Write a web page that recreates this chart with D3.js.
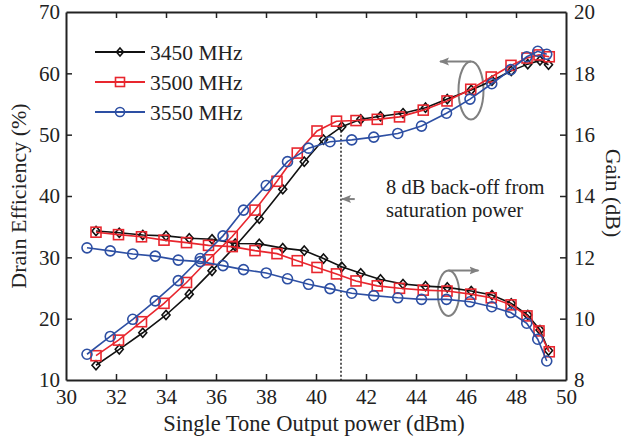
<!DOCTYPE html>
<html>
<head>
<meta charset="utf-8">
<script src="https://cdn.jsdelivr.net/npm/d3@7"></script>
<style>
  body { margin: 0; background: #fff; }
  text { font-family: "Liberation Serif", "Times New Roman", serif; fill: #222; }
</style>
</head>
<body>
<div id="container"></div>
<script>
//---------------------------DATA-------------------------------//
var xTicks = [30, 32, 34, 36, 38, 40, 42, 44, 46, 48, 50];
var effTicks = [10, 20, 30, 40, 50, 60, 70];
var gainTicks = [8, 10, 12, 14, 16, 18, 20];

var freqs = ["3450 MHz", "3500 MHz", "3550 MHz"];

// output power (dBm)
var pout3450 = [31.2, 32.13, 33.07, 34.0, 34.93, 35.84, 36.77, 37.73, 38.67, 39.53, 40.3, 41.03,
  41.79, 42.58, 43.48, 44.38, 45.25, 46.21, 47.04, 47.81, 48.47, 48.96, 49.3];
var pout3500 = [31.2, 32.1, 33.02, 33.92, 34.82, 35.7, 36.65, 37.56, 38.44, 39.25, 40.04, 40.82,
  41.6, 42.45, 43.34, 44.29, 45.24, 46.19, 47.01, 47.8, 48.44, 48.92, 49.33];
var pout3550 = [30.84, 31.77, 32.67, 33.57, 34.49, 35.37, 36.28, 37.1, 38.01, 38.86, 39.7, 40.56,
  41.43, 42.31, 43.27, 44.22, 45.22, 46.16, 47.03, 47.79, 48.43, 48.87, 49.23];

// drain efficiency (%)
var eff3450 = [12.4, 15.0, 17.7, 20.6, 24.0, 27.8, 31.8, 36.3, 41.1, 45.6, 49.2, 51.3,
  52.5, 53.0, 53.5, 54.4, 55.8, 57.3, 58.8, 60.4, 61.5, 62.1, 61.4];
var eff3500 = [13.96, 16.5, 19.5, 22.5, 25.9, 29.6, 33.4, 37.7, 42.4, 47.0, 50.6, 52.2,
  52.3, 52.5, 52.9, 54.0, 55.5, 57.4, 59.4, 61.3, 62.5, 63.0, 62.7];
var eff3550 = [14.2, 17.1, 19.9, 22.9, 26.2, 29.8, 33.5, 37.7, 41.7, 45.6, 47.8, 48.85,
  49.15, 49.6, 50.2, 51.4, 53.5, 55.8, 58.3, 60.6, 62.7, 63.6, 63.1];

// gain (dB)
var gain3450 = [12.86, 12.8, 12.73, 12.7, 12.62, 12.59, 12.45, 12.44, 12.3, 12.22, 11.96, 11.69,
  11.48, 11.28, 11.13, 11.06, 11.02, 10.9, 10.77, 10.5, 10.12, 9.63, 8.96];
var gain3500 = [12.82, 12.74, 12.67, 12.56, 12.48, 12.39, 12.35, 12.22, 12.12, 11.89, 11.67, 11.46,
  11.23, 11.07, 10.99, 10.93, 10.9, 10.8, 10.68, 10.45, 10.09, 9.6, 8.92];
var gain3550 = [12.31, 12.21, 12.11, 12.04, 11.91, 11.86, 11.73, 11.6, 11.49, 11.3, 11.12, 10.98,
  10.83, 10.75, 10.68, 10.63, 10.63, 10.55, 10.39, 10.2, 9.85, 9.33, 8.62];

// annotations (data units)
var backoffX = 41, backoffTop = 51.3, backoffArrowY = 39.5, backoffArrowFrom = 41.55;
var effEllipse = {x: 46.2, y: 57.2, arrowTo: 44.96};
var gainEllipse = {x: 45.3, y: 10.83, arrowTo: 46.5};

//---------------------------SETUP------------------------------//
const width = 627;
const height = 438;
const colors = ["#111111", "#e8262e", "#2d4fa3"];
const gray = "#808080";

const svg = d3.select("div#container").append("svg")
    .attr("width", width)
    .attr("height", height);

const xScale = d3.scaleLinear().domain([30, 50]).range([66, 566]);
const yEff = d3.scaleLinear().domain([10, 70]).range([380, 12]);
const yGain = d3.scaleLinear().domain([8, 20]).range([380, 12]);

svg.append("defs").append("marker")
    .attr("id", "arrow")
    .attr("viewBox", "0 -5 10 10")
    .attr("refX", 9).attr("refY", 0)
    .attr("markerWidth", 10).attr("markerHeight", 10)
    .attr("markerUnits", "userSpaceOnUse")
    .attr("orient", "auto")
  .append("path")
    .attr("d", "M0,-4L10,0L0,4L2,0Z")
    .attr("fill", gray);

//----------------------------AXES------------------------------//
function styleAxis(g) {
  g.select(".domain").attr("stroke", "#222").attr("stroke-width", 2);
  g.selectAll(".tick line").attr("stroke", "#222").attr("stroke-width", 1.5);
  g.selectAll(".tick text").style("font-size", "21px").attr("fill", "#222");
}

svg.append("g")
    .attr("transform", "translate(0,380)")
    .call(d3.axisBottom(xScale).tickValues(xTicks).tickSizeInner(-6).tickSizeOuter(0).tickPadding(9))
    .call(styleAxis)
    .call(g => g.selectAll(".tick line").filter(d => d == 30 || d == 50).remove());

svg.append("g")
    .attr("transform", "translate(0,12)")
    .call(d3.axisTop(xScale).tickValues(xTicks.slice(1, -1)).tickSizeInner(-6).tickSizeOuter(0).tickFormat(""))
    .call(styleAxis);

svg.append("g")
    .attr("transform", "translate(66,0)")
    .call(d3.axisLeft(yEff).tickValues(effTicks).tickSizeInner(-6).tickSizeOuter(0).tickPadding(6))
    .call(styleAxis)
    .call(g => g.selectAll(".tick line").filter(d => d == 10 || d == 70).remove());

svg.append("g")
    .attr("transform", "translate(566,0)")
    .call(d3.axisRight(yGain).tickValues(gainTicks).tickSizeInner(-6).tickSizeOuter(0).tickPadding(8))
    .call(styleAxis)
    .call(g => g.selectAll(".tick line").filter(d => d == 8 || d == 20).remove());

svg.append("text")
    .attr("x", 314).attr("y", 431)
    .attr("text-anchor", "middle")
    .style("font-size", "22.5px")
    .text("Single Tone Output power (dBm)");

svg.append("text")
    .attr("transform", "translate(26,196) rotate(-90)")
    .attr("text-anchor", "middle")
    .style("font-size", "22px")
    .text("Drain Efficiency (%)");

svg.append("text")
    .attr("transform", "translate(606,193) rotate(90)")
    .attr("text-anchor", "middle")
    .style("font-size", "22px")
    .text("Gain (dB)");

//------------------------ANNOTATIONS---------------------------//
svg.append("line")
    .attr("x1", xScale(backoffX)).attr("x2", xScale(backoffX))
    .attr("y1", yEff(backoffTop)).attr("y2", yEff(10))
    .attr("stroke", "#222").attr("stroke-width", 1.5)
    .attr("stroke-dasharray", "2,2");

svg.append("line")
    .attr("x1", xScale(backoffArrowFrom)).attr("x2", xScale(backoffX) + 1)
    .attr("y1", yEff(backoffArrowY)).attr("y2", yEff(backoffArrowY))
    .attr("stroke", gray).attr("stroke-width", 2)
    .attr("marker-end", "url(#arrow)");

svg.append("text")
    .attr("x", 386).attr("y", 194)
    .style("font-size", "20.5px")
    .text("8 dB back-off from");
svg.append("text")
    .attr("x", 386).attr("y", 217)
    .style("font-size", "20.5px")
    .text("saturation power");

function ellipseArrow(e, yScale, rx, ry) {
  const cx = xScale(e.x), cy = yScale(e.y);
  svg.append("ellipse")
      .attr("cx", cx).attr("cy", cy)
      .attr("rx", rx).attr("ry", ry)
      .attr("fill", "none").attr("stroke", gray).attr("stroke-width", 2);
  svg.append("line")
      .attr("x1", cx).attr("x2", xScale(e.arrowTo))
      .attr("y1", cy - ry).attr("y2", cy - ry)
      .attr("stroke", gray).attr("stroke-width", 2)
      .attr("marker-end", "url(#arrow)");
}
ellipseArrow(effEllipse, yEff, 12.5, 29);
ellipseArrow(gainEllipse, yGain, 10.7, 22.7);

//---------------------------SERIES-----------------------------//
function marker(sel, kind, color, s) {
  if (kind == 0) {
    sel.append("path")
        .attr("d", "M0," + (-s * 1.15) + "L" + s + ",0L0," + (s * 1.15) + "L" + (-s) + ",0Z")
        .attr("fill", "none").attr("stroke", color).attr("stroke-width", 1.6);
  } else if (kind == 1) {
    sel.append("rect")
        .attr("x", -s).attr("y", -s).attr("width", 2 * s).attr("height", 2 * s)
        .attr("fill", "none").attr("stroke", color).attr("stroke-width", 1.6);
  } else {
    sel.append("circle")
        .attr("r", s)
        .attr("fill", "none").attr("stroke", color).attr("stroke-width", 1.6);
  }
}

const series = [
  {pout: pout3450, eff: eff3450, gain: gain3450},
  {pout: pout3500, eff: eff3500, gain: gain3500},
  {pout: pout3550, eff: eff3550, gain: gain3550}
];
const sizes = [4, 5, 5];

series.forEach(function(s, i) {
  const effPts = s.pout.map((p, k) => [xScale(p), yEff(s.eff[k])]);
  const gainPts = s.pout.map((p, k) => [xScale(p), yGain(s.gain[k])]);
  [effPts, gainPts].forEach(function(pts) {
    svg.append("path")
        .attr("d", d3.line()(pts))
        .attr("fill", "none")
        .attr("stroke", colors[i])
        .attr("stroke-width", 1.6);
    svg.selectAll(null)
        .data(pts)
        .enter()
        .append("g")
        .attr("transform", d => "translate(" + d[0] + "," + d[1] + ")")
        .each(function() { marker(d3.select(this), i, colors[i], sizes[i]); });
  });
});

//---------------------------LEGEND-----------------------------//
const legendRows = [52, 82, 112];
freqs.forEach(function(f, i) {
  const g = svg.append("g").attr("transform", "translate(0," + legendRows[i] + ")");
  g.append("line")
      .attr("x1", 95).attr("x2", 145)
      .attr("stroke", colors[i]).attr("stroke-width", 2);
  const m = g.append("g").attr("transform", "translate(120,0)");
  marker(m, i, colors[i], i == 0 ? 3.5 : 4.5);
  g.append("text")
      .attr("x", 150).attr("y", 7.5)
      .style("font-size", "21.5px")
      .text(f);
});
</script>
</body>
</html>
